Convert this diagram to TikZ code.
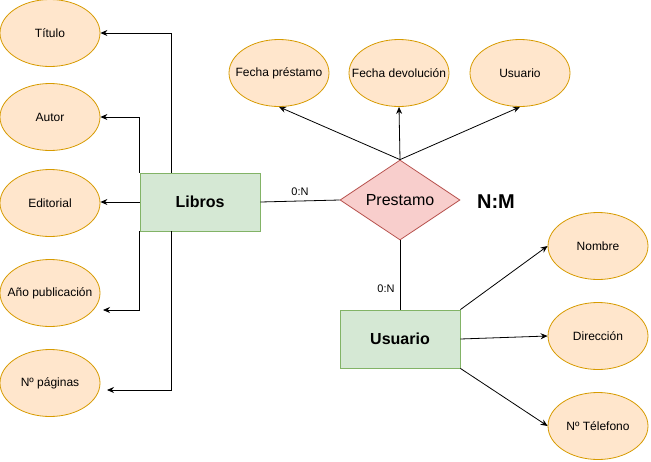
\documentclass[tikz,border=0pt]{standalone}
\usepackage{fontspec}
\setmainfont{Liberation Sans}
\usetikzlibrary{positioning,shapes.geometric,arrows.meta}
\definecolor{atrfill}{HTML}{FFE6CC}
\definecolor{atrdraw}{HTML}{D79B00}
\definecolor{entfill}{HTML}{D5E8D4}
\definecolor{entdraw}{HTML}{82B366}
\definecolor{relfill}{HTML}{F8CECC}
\definecolor{reldraw}{HTML}{B85450}

\begin{document}
\begin{tikzpicture}[x=1pt,y=-1pt,
        atrib/.style={ellipse,fill=atrfill,draw=atrdraw,line width=0.8pt,minimum width=100pt,minimum height=67pt,inner sep=0pt,font=\fontsize{12}{14}\selectfont,
            execute at begin node={\hbox to 0pt\bgroup\hss},execute at end node={\hss\egroup}},
        entidad/.style={rectangle,fill=entfill,draw=entdraw,line width=0.8pt,minimum width=120pt,minimum height=58pt,font=\fontsize{16}{18}\selectfont\bfseries},
        relacion/.style={diamond,aspect=1.5,fill=relfill,draw=reldraw,line width=0.8pt,minimum width=120pt,minimum height=80pt,inner sep=0pt,font=\fontsize{16}{18}\selectfont},
        card/.style={font=\fontsize{11}{13}\selectfont,inner sep=1pt},
        linea/.style={line width=0.8pt},
        flecha/.style={line width=0.8pt,-{Stealth[length=7pt,width=6pt]}}]
    \useasboundingbox (0,0) rectangle (651,461);

    \node[atrib] (titulo)    at (50, 33)  {Título};
    \node[atrib] (autor)     at (50,117)  {Autor};
    \node[atrib] (editorial) at (50,203)  {Editorial};
    \node[atrib] (anio)      at (50,293)  {Año publicación};
    \node[atrib] (paginas)   at (50,383)  {Nº páginas};

    \node[atrib] (fprestamo) at (279,73)  {Fecha préstamo};
    \node[atrib] (fdevol)    at (399,73)  {Fecha devolución};
    \node[atrib] (usuattr)   at (520,73)  {Usuario};

    \node[atrib] (nombre)    at (598,246) {Nombre};
    \node[atrib] (direccion) at (598,336) {Dirección};
    \node[atrib] (telefono)  at (598,426) {Nº Télefono};

    \node[entidad]  (libros)   at (200,202) {Libros};
    \node[relacion] (prestamo) at (400,200) {Prestamo};
    \node[entidad]  (usuario)  at (400,339) {Usuario};
    \node[font=\fontsize{20}{22}\selectfont\bfseries] (nm) at (496,202) {N:M};

    \coordinate (aniofin) at (103,310);
    \coordinate (pagfin)  at (107,390);

    \draw[flecha] ([xshift=-29pt]libros.north) |- (titulo);
    \draw[flecha] (libros.north west) |- (autor);
    \draw[flecha] (libros.west) -- (libros.west -| editorial.east);
    \draw[flecha] (libros.south west) |- (aniofin);
    \draw[flecha] ([xshift=-29pt]libros.south) |- (pagfin);

    \draw[linea] (libros.east) -- (prestamo.west) node[card,midway,above=4pt] (card1) {0:N};
    \draw[linea] (prestamo.south) -- (usuario.north) node[card,pos=0.7,left=4pt] (card2) {0:N};

    \draw[flecha] (prestamo.north) -- (fprestamo.south);
    \draw[flecha] (prestamo.north) -- (fdevol.south);
    \draw[flecha] (prestamo.north) -- (usuattr.south);

    \draw[flecha] (usuario.north east) -- (nombre.west);
    \draw[flecha] (usuario.east) -- (direccion.west);
    \draw[flecha] (usuario.south east) -- (telefono.west);
\end{tikzpicture}
\end{document}
